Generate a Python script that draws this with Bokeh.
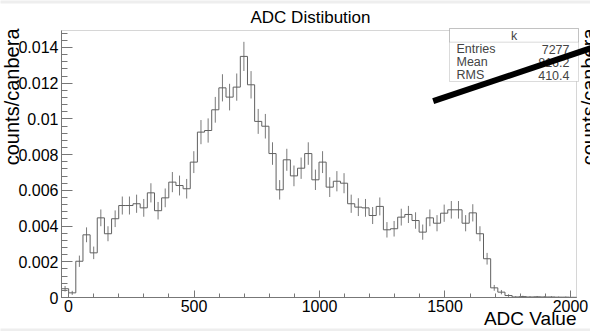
import math
import numpy as np
from bokeh.plotting import figure
from bokeh.models import (FixedTicker, CustomJSTickFormatter, Label, BoxAnnotation,
                          Arrow, Range1d)
from bokeh.embed import file_html
from bokeh.resources import INLINE

# ---------------- data ----------------
hist_name = "k"
title_text = "ADC Distibution"
x_title = "ADC Value"
y_title = "counts/canbera"
bin_low = -28.0
bin_width = 28.5
counts_per_canbera = [
    0.00049, 0.00026, 0.00203, 0.00351, 0.00250, 0.00446, 0.00357, 0.00441, 0.00515, 0.00515,
    0.00525, 0.00502, 0.00586, 0.00486, 0.00558, 0.00646, 0.00627, 0.00609, 0.00758, 0.00926,
    0.00935, 0.01051, 0.01174, 0.01122, 0.01178, 0.01350, 0.01191, 0.00986, 0.00959, 0.00806,
    0.00603, 0.00771, 0.00681, 0.00724, 0.00806, 0.00659, 0.00758, 0.00618, 0.00651, 0.00640,
    0.00525, 0.00506, 0.00502, 0.00459, 0.00510, 0.00379, 0.00385, 0.00450, 0.00465, 0.00431,
    0.00366, 0.00446, 0.00416, 0.00472, 0.00491, 0.00491, 0.00416, 0.00474, 0.00357, 0.00217,
    0.00054, 0.00030, 0.00011, 0.00003, 0.00005, 0.00003, 0.00004, 0.00003, 0.00003, 0.00002,
    0.00002, 0.00001,
]
entries = 7277
mean_text = "816.2"
rms_text = "410.4"
x_ticks = [0, 500, 1000, 1500, 2000]
y_ticks = [0, 0.002, 0.004, 0.006, 0.008, 0.01, 0.012, 0.014]
y_max = 0.01495

# ---------------- geometry ----------------
W, H = 590, 331
FL, FR, FT, FB = 61, 576, 30, 297   # histogram frame in page pixels
nb = len(counts_per_canbera)
X0 = bin_low
X1 = bin_low + nb * bin_width


def dx(px):
    return X0 + (px - FL) * (X1 - X0) / (FR - FL)


def dy(py):
    return (FB - py) * y_max / (FB - FT)


FONT = "Liberation Sans"
GREY = "#777777"

p = figure(width=W, height=H, x_range=Range1d(dx(0), dx(W)), y_range=Range1d(dy(H), dy(0)),
           output_backend="svg", toolbar_location=None, min_border=0,
           background_fill_color="white", border_fill_color="white",
           outline_line_color=None)
p.grid.visible = False

fmt = CustomJSTickFormatter(code="return String(Number(tick.toPrecision(8)));")

p.xaxis.ticker = FixedTicker(ticks=x_ticks, minor_ticks=list(range(0, 2001, 100)))
p.yaxis.ticker = FixedTicker(ticks=y_ticks,
                             minor_ticks=[round(i * 0.0004, 6) for i in range(0, 38)])
p.xaxis.fixed_location = 0
p.xaxis.bounds = (X0, X1)
p.yaxis.fixed_location = X0
p.yaxis.bounds = (0, y_max)
for ax in (p.xaxis, p.yaxis):
    ax.formatter = fmt
    ax.axis_line_color = GREY
    ax.major_tick_line_color = GREY
    ax.minor_tick_line_color = GREY
    ax.major_tick_out = 0
    ax.minor_tick_out = 0
    ax.major_label_text_font = FONT
    ax.major_label_text_font_size = "16px"
    ax.major_label_text_color = "black"
p.xaxis.major_tick_in = 7
p.xaxis.minor_tick_in = 4
p.xaxis.major_label_standoff = 2
p.yaxis.major_tick_in = 11
p.yaxis.minor_tick_in = 6
p.yaxis.major_label_standoff = 3

# frame box of the histogram pad
p.add_layout(BoxAnnotation(left=X0, right=X1, bottom=0, top=y_max, fill_alpha=0,
                           line_color=GREY, line_width=1, level="underlay"))

# ---------------- histogram ----------------
vals = np.array(counts_per_canbera)
edges = [bin_low + i * bin_width for i in range(nb + 1)]
centers = [bin_low + (i + 0.5) * bin_width for i in range(nb)]
norm = entries / vals.sum()
errs = np.sqrt(vals / norm)

p.segment(x0=centers, y0=list(vals - errs), x1=centers, y1=list(vals + errs),
          line_color="#7a7a7a", line_width=1)
p.step([edges[0]] + edges, [0.0] + list(vals) + [0.0], mode="after",
       line_color="#606060", line_width=1)

# ---------------- page decorations ----------------
p.add_layout(BoxAnnotation(left=dx(-10), right=dx(600), top=dy(-10), bottom=dy(3),
                           fill_color="#eeeeee", fill_alpha=1, line_alpha=0))
p.add_layout(BoxAnnotation(left=dx(-10), right=dx(600), top=dy(328), bottom=dy(345),
                           fill_color="#eeeeee", fill_alpha=1, line_alpha=0))

p.add_layout(Label(x=dx(310), y=dy(17), text=title_text, text_align="center",
                   text_baseline="middle", text_font=FONT, text_font_size="17px",
                   text_color="black"))
p.add_layout(Label(x=dx(0), y=dy(28), text=y_title, angle=math.pi / 2,
                   text_align="right", text_baseline="top", text_font=FONT,
                   text_font_size="20px", text_color="black"))
p.add_layout(Label(x=dx(577), y=dy(28), text=y_title, angle=math.pi / 2,
                   text_align="right", text_baseline="top", text_font=FONT,
                   text_font_size="20px", text_color="black"))
p.add_layout(Label(x=dx(576), y=dy(318), text=x_title, text_align="right",
                   text_baseline="middle", text_font=FONT, text_font_size="19px",
                   text_color="black"))

# stats box
p.add_layout(BoxAnnotation(left=dx(449), right=dx(578), top=dy(28), bottom=dy(81),
                           fill_color="white", fill_alpha=1, line_color="#888888",
                           line_width=1))
p.add_layout(BoxAnnotation(left=dx(449), right=dx(578), top=dy(28), bottom=dy(41.7),
                           fill_alpha=0, line_color="#888888", line_width=1))
p.add_layout(Label(x=dx(513.5), y=dy(35), text=hist_name, text_align="center",
                   text_baseline="middle", text_font=FONT, text_font_size="12.5px"))
rows = [("Entries", str(entries)), ("Mean", mean_text), ("RMS", rms_text)]
for i, (k, v) in enumerate(rows):
    yy = dy(48.5 + 13 * i)
    p.add_layout(Label(x=dx(456), y=yy, text=k, text_align="left", text_baseline="middle",
                       text_font=FONT, text_font_size="12.5px"))
    p.add_layout(Label(x=dx(569), y=yy, text=v, text_align="right", text_baseline="middle",
                       text_font=FONT, text_font_size="12.5px"))

p.add_layout(Arrow(end=None, x_start=dx(432.7), y_start=dy(100.7), x_end=dx(600),
                   y_end=dy(44.5), line_width=6, line_color="black"))

open("out.html", "w").write(file_html(p, INLINE))
